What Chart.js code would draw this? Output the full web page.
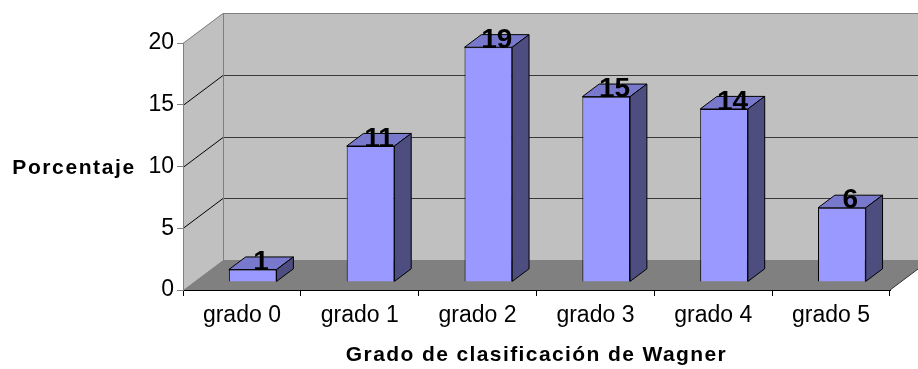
<!DOCTYPE html>
<html>
<head>
<meta charset="utf-8">
<script src="https://cdn.jsdelivr.net/npm/chart.js@4/dist/chart.umd.min.js"></script>
<style>
  body { margin: 0; background: #fff; }
  #wrap { width: 918px; height: 369px; }
</style>
</head>
<body>
<div id="wrap"><canvas id="michart"></canvas></div>
<script>
const categorias = ['grado 0', 'grado 1', 'grado 2', 'grado 3', 'grado 4', 'grado 5']
const porcentajes = [1, 11, 19, 15, 14, 6]
const ticksY = [0, 5, 10, 15, 20]
const tituloY = 'Porcentaje'
const tituloX = 'Grado de clasificación de Wagner'

// profundidad del "3D": desplazamiento de la pared del fondo
const DX = 40
const DY = -30
const F0 = 0.27  // frente de la barra
const F1 = 0.69  // fondo de la barra

const fuente = 'Arial, "Liberation Sans", sans-serif'
Chart.defaults.font.family = fuente
Chart.defaults.color = '#000'

const escena3d = {
  id: 'escena3d',
  beforeDraw(chart) {
    const ctx = chart.ctx
    const y = chart.scales.y
    const L = chart.chartArea.left
    const R = chart.chartArea.right
    const top = y.getPixelForValue(ticksY[ticksY.length - 1])
    const bot = y.getPixelForValue(0)

    ctx.save()
    // pared del fondo
    ctx.fillStyle = '#C0C0C0'
    ctx.fillRect(L + DX, top + DY, R - L, bot - top)
    // pared izquierda
    ctx.beginPath()
    ctx.moveTo(L, top)
    ctx.lineTo(L + DX, top + DY)
    ctx.lineTo(L + DX, bot + DY)
    ctx.lineTo(L, bot)
    ctx.closePath()
    ctx.fill()
    // piso
    ctx.fillStyle = '#808080'
    ctx.beginPath()
    ctx.moveTo(L, bot)
    ctx.lineTo(L + DX, bot + DY)
    ctx.lineTo(R + DX, bot + DY)
    ctx.lineTo(R, bot)
    ctx.closePath()
    ctx.fill()

    ctx.lineWidth = 1
    // lineas de division
    ticksY.forEach(v => {
      if (v === 0) return
      const py = Math.round(y.getPixelForValue(v)) + 0.5
      const ultimo = v === ticksY[ticksY.length - 1]
      ctx.strokeStyle = ultimo ? '#808080' : '#3a3a3a'
      ctx.beginPath()
      ctx.moveTo(L + DX, py + DY)
      ctx.lineTo(R + DX, py + DY)
      ctx.stroke()
      ctx.strokeStyle = ultimo ? '#808080' : '#000'
      ctx.beginPath()
      ctx.moveTo(L, py)
      ctx.lineTo(L + DX, py + DY)
      ctx.stroke()
    })
    // arista izquierda del fondo y derecha del piso
    ctx.strokeStyle = '#808080'
    ctx.beginPath()
    ctx.moveTo(L + DX + 0.5, top + DY)
    ctx.lineTo(L + DX + 0.5, bot + DY)
    ctx.stroke()
    ctx.strokeStyle = '#333'
    ctx.beginPath()
    ctx.moveTo(R, bot)
    ctx.lineTo(R + DX, bot + DY)
    ctx.stroke()
    ctx.restore()
  },
  beforeDatasetsDraw(chart) {
    chart.ctx.save()
    chart.ctx.translate(F0 * DX, F0 * DY)
  },
  afterDatasetsDraw(chart) {
    const ctx = chart.ctx
    ctx.restore()
    const d = (F1 - F0) * DX
    const e = (F1 - F0) * DY
    const meta = chart.getDatasetMeta(0)
    ctx.save()
    ctx.lineWidth = 1
    ctx.strokeStyle = '#000'
    meta.data.forEach((bar, i) => {
      const p = bar.getProps(['x', 'y', 'base', 'width'], true)
      const l = p.x - p.width / 2 + F0 * DX
      const r = p.x + p.width / 2 + F0 * DX
      const t = p.y + F0 * DY
      const b = p.base + F0 * DY
      // cara superior
      ctx.fillStyle = '#7878CC'
      ctx.beginPath()
      ctx.moveTo(l, t)
      ctx.lineTo(r, t)
      ctx.lineTo(r + d, t + e)
      ctx.lineTo(l + d, t + e)
      ctx.closePath()
      ctx.fill()
      ctx.stroke()
      // cara lateral
      ctx.fillStyle = '#4D4D80'
      ctx.beginPath()
      ctx.moveTo(r, t)
      ctx.lineTo(r + d, t + e)
      ctx.lineTo(r + d, b + e)
      ctx.lineTo(r, b)
      ctx.closePath()
      ctx.fill()
      ctx.stroke()
      // etiqueta
      ctx.fillStyle = '#000'
      ctx.font = 'bold 28px ' + fuente
      ctx.textAlign = 'center'
      ctx.textBaseline = 'alphabetic'
      ctx.fillText(String(porcentajes[i]), (l + r) / 2 + d / 2, t + 0.5)
    })
    ctx.restore()
  },
  afterDraw(chart) {
    const ctx = chart.ctx
    const x = chart.scales.x
    const y = chart.scales.y
    ctx.save()
    ctx.fillStyle = '#000'
    ctx.font = 'bold 21px ' + fuente
    ctx.textAlign = 'center'
    ctx.textBaseline = 'alphabetic'
    ctx.letterSpacing = '1.6px'
    ctx.fillText(tituloY, 74, y.getPixelForValue(10) + 7.5)
    ctx.letterSpacing = '1.4px'
    ctx.fillText(tituloX, (x.left + x.right) / 2, chart.height - 8)
    ctx.restore()
  }
}

const data = {
  labels: categorias,
  datasets: [{
    label: tituloY,
    data: porcentajes,
    backgroundColor: '#9999FF',
    borderColor: '#000',
    borderWidth: 1,
    barPercentage: 0.405,
    categoryPercentage: 1
  }]
}

const config = {
  type: 'bar',
  data,
  options: {
    responsive: true,
    maintainAspectRatio: false,
    animation: false,
    layout: { padding: { top: 43, right: 28, left: 0, bottom: 0 } },
    plugins: {
      legend: { display: false },
      tooltip: { enabled: false }
    },
    scales: {
      x: {
        afterFit: s => { s.height = 79 },
        grid: { offset: true, drawOnChartArea: false, tickLength: 6, color: '#000' },
        border: { color: '#000' },
        ticks: { font: { size: 23 }, padding: 6, color: '#000' }
      },
      y: {
        min: 0,
        max: 20,
        afterFit: s => { s.width = 183 },
        afterBuildTicks: s => { s.ticks = ticksY.map(v => ({ value: v })) },
        grid: { drawOnChartArea: false, tickLength: 6, color: '#808080' },
        border: { color: '#808080' },
        ticks: { font: { size: 23 }, padding: 3, color: '#000' }
      }
    }
  },
  plugins: [escena3d]
}

const chart1 = new Chart(document.getElementById('michart'), config)
</script>
</body>
</html>
